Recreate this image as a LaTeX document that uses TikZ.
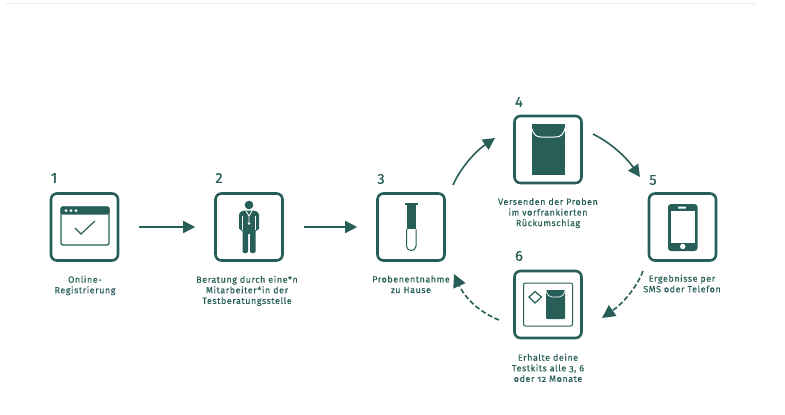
\documentclass[tikz,border=0pt]{standalone}
\usepackage{fontspec}
\setmainfont[LetterSpace=6,Numbers=OldStyle,FakeBold=0.25]{Fira Sans}
\newfontfamily\numfont[FakeBold=0.6]{Fira Sans}
\usetikzlibrary{arrows.meta}
\definecolor{tg}{HTML}{275F58}
\tikzset{
  stepbox/.style={draw=tg,line width=2.6pt,rounded corners=6pt,minimum width=67pt,minimum height=67pt,inner sep=0pt},
  numlabel/.style={text=tg,font=\numfont\fontsize{14.5}{14.5}\selectfont,inner sep=0pt},
  caption/.style={text=tg,align=center,font=\fontsize{9}{10.6}\selectfont,inner sep=0pt,anchor=north},
  flow/.style={draw=tg,line width=1.6pt,-{Triangle[length=12pt,width=12pt]}},
  flowd/.style={draw=tg,line width=1.6pt,dash pattern=on 5pt off 2.5pt,-{Triangle[length=13pt,width=13pt,fill=tg]}},
}
\begin{document}
\begin{tikzpicture}[x=1pt,y=-1pt]
\useasboundingbox (0,0) rectangle (785,415);
\draw[draw=black!7,line width=0.8pt] (5,3) -- (757,3);
% boxes
\node[stepbox] (b1) at (84.5,227) {};
\node[stepbox] (b2) at (249,227) {};
\node[stepbox] (b3) at (411,227) {};
\node[stepbox] (b4) at (548,149.5) {};
\node[stepbox] (b5) at (682.5,227) {};
\node[stepbox] (b6) at (548,304.5) {};
% numbers
\node[numlabel] (n1) at (54,178) {1};
\node[numlabel] (n2) at (219,178) {2};
\node[numlabel] (n3) at (381,179) {3};
\node[numlabel] (n4) at (519,102) {4};
\node[numlabel] (n5) at (653,180) {5};
\node[numlabel] (n6) at (519,256) {6};
% captions
\node[caption] (c1) at (85,275.5) {Online-\\Registrierung};
\node[caption] (c2) at (247,275.5) {Beratung durch eine*n\\Mitarbeiter*in der\\Testberatungsstelle};
\node[caption] (c3) at (411,275.5) {Probenentnahme\\zu Hause};
\node[caption] (c4) at (548,198) {Versenden der Proben\\im vorfrankierten\\Rückumschlag};
\node[caption] (c5) at (682,274.5) {Ergebnisse per\\SMS oder Telefon};
\node[caption] (c6) at (548,353.5) {Erhalte deine\\Testkits alle 3, 6\\oder 12 Monate};
% connectors
\draw[flow,shorten <=20pt,shorten >=19pt] (b1) -- (b2);
\draw[flow,shorten <=20pt,shorten >=19pt] (b2) -- (b3);
\coordinate (a34s) at (453,185);
\coordinate (a34e) at (495,138);
\draw[flow] (a34s) .. controls (461,167) and (476,151) .. (a34e);
\coordinate (a45s) at (593,134);
\coordinate (a45e) at (640,177);
\draw[flow] (a45s) .. controls (611,143) and (626,157) .. (a45e);
\coordinate (a56s) at (643,271);
\coordinate (a56e) at (602,318);
\draw[flowd] (a56s) .. controls (636,289) and (622,304) .. (a56e);
\coordinate (a63s) at (499,320);
\coordinate (a63e) at (454,274);
\draw[flowd] (a63s) .. controls (479,312) and (465,298) .. (a63e);
% icon 1: browser
\draw[draw=tg,line width=1.3pt,rounded corners=2pt] (61,207) rectangle (109,245);
\fill[tg,rounded corners=2pt] (60.5,206.5) rectangle (109.5,214.5);
\fill[white] (66,210.5) circle (1.5) (71,210.5) circle (1.5) (76,210.5) circle (1.5);
\draw[draw=tg,line width=1.2pt] (75,228) -- (81,234) -- (95,221);
% icon 2: person
\fill[tg] (249,205) circle (4.3);
\fill[tg,rounded corners=1.5pt] (239,213) -- (243,210.5) -- (255,210.5) -- (259,213) -- (259,230) -- (255.5,230) -- (255.5,253) -- (250,253) -- (250,233) -- (248,233) -- (248,253) -- (242.5,253) -- (242.5,230) -- (239,230) -- cycle;
\draw[white,line width=0.7pt] (242.7,216) -- (242.7,230) (255.3,216) -- (255.3,230);
\draw[white,line width=0.8pt] (246,211) -- (249,216) -- (252,211) (249,216) -- (249,222);
\fill[white] (249,223.5) circle (1.3);
% icon 3: tube
\fill[tg] (405,202.5) rectangle (418,205);
\fill[tg] (406.5,205) rectangle (416,229);
\draw[tg,line width=1pt,fill=white] (406.5,229) -- (406.5,246) .. controls (406.5,252) and (416,252) .. (416,246) -- (416,229);
% icon 4: envelope
\fill[tg] (531.5,124) rectangle (565,175);
\draw[white,line width=1pt] (531,127) .. controls (534,135) and (536,137) .. (541,137) -- (555,137) .. controls (561,137) and (563,135) .. (565.5,127);
% icon 5: phone
\fill[tg,rounded corners=3pt] (668,204) rectangle (697.5,251);
\fill[white] (671,211) rectangle (694.5,243);
\fill[white,rounded corners=0.5pt] (678,206.5) rectangle (686,208.7);
\fill[white] (682.7,246.5) circle (2.7);
% icon 6: kit
\draw[tg,line width=1pt,rounded corners=2pt] (523.5,283) rectangle (572.5,326);
\draw[tg,line width=1.2pt,fill=white] (535,291.5) -- (541.5,297) -- (535,303) -- (529,297) -- cycle;
\fill[tg,rounded corners=1pt] (546,290) rectangle (565,319);
\draw[white,line width=0.7pt] (546,291) .. controls (547.5,295) and (549,297) .. (552,297) -- (559,297) .. controls (562,297) and (563.5,295) .. (565,291);
\end{tikzpicture}
\end{document}
